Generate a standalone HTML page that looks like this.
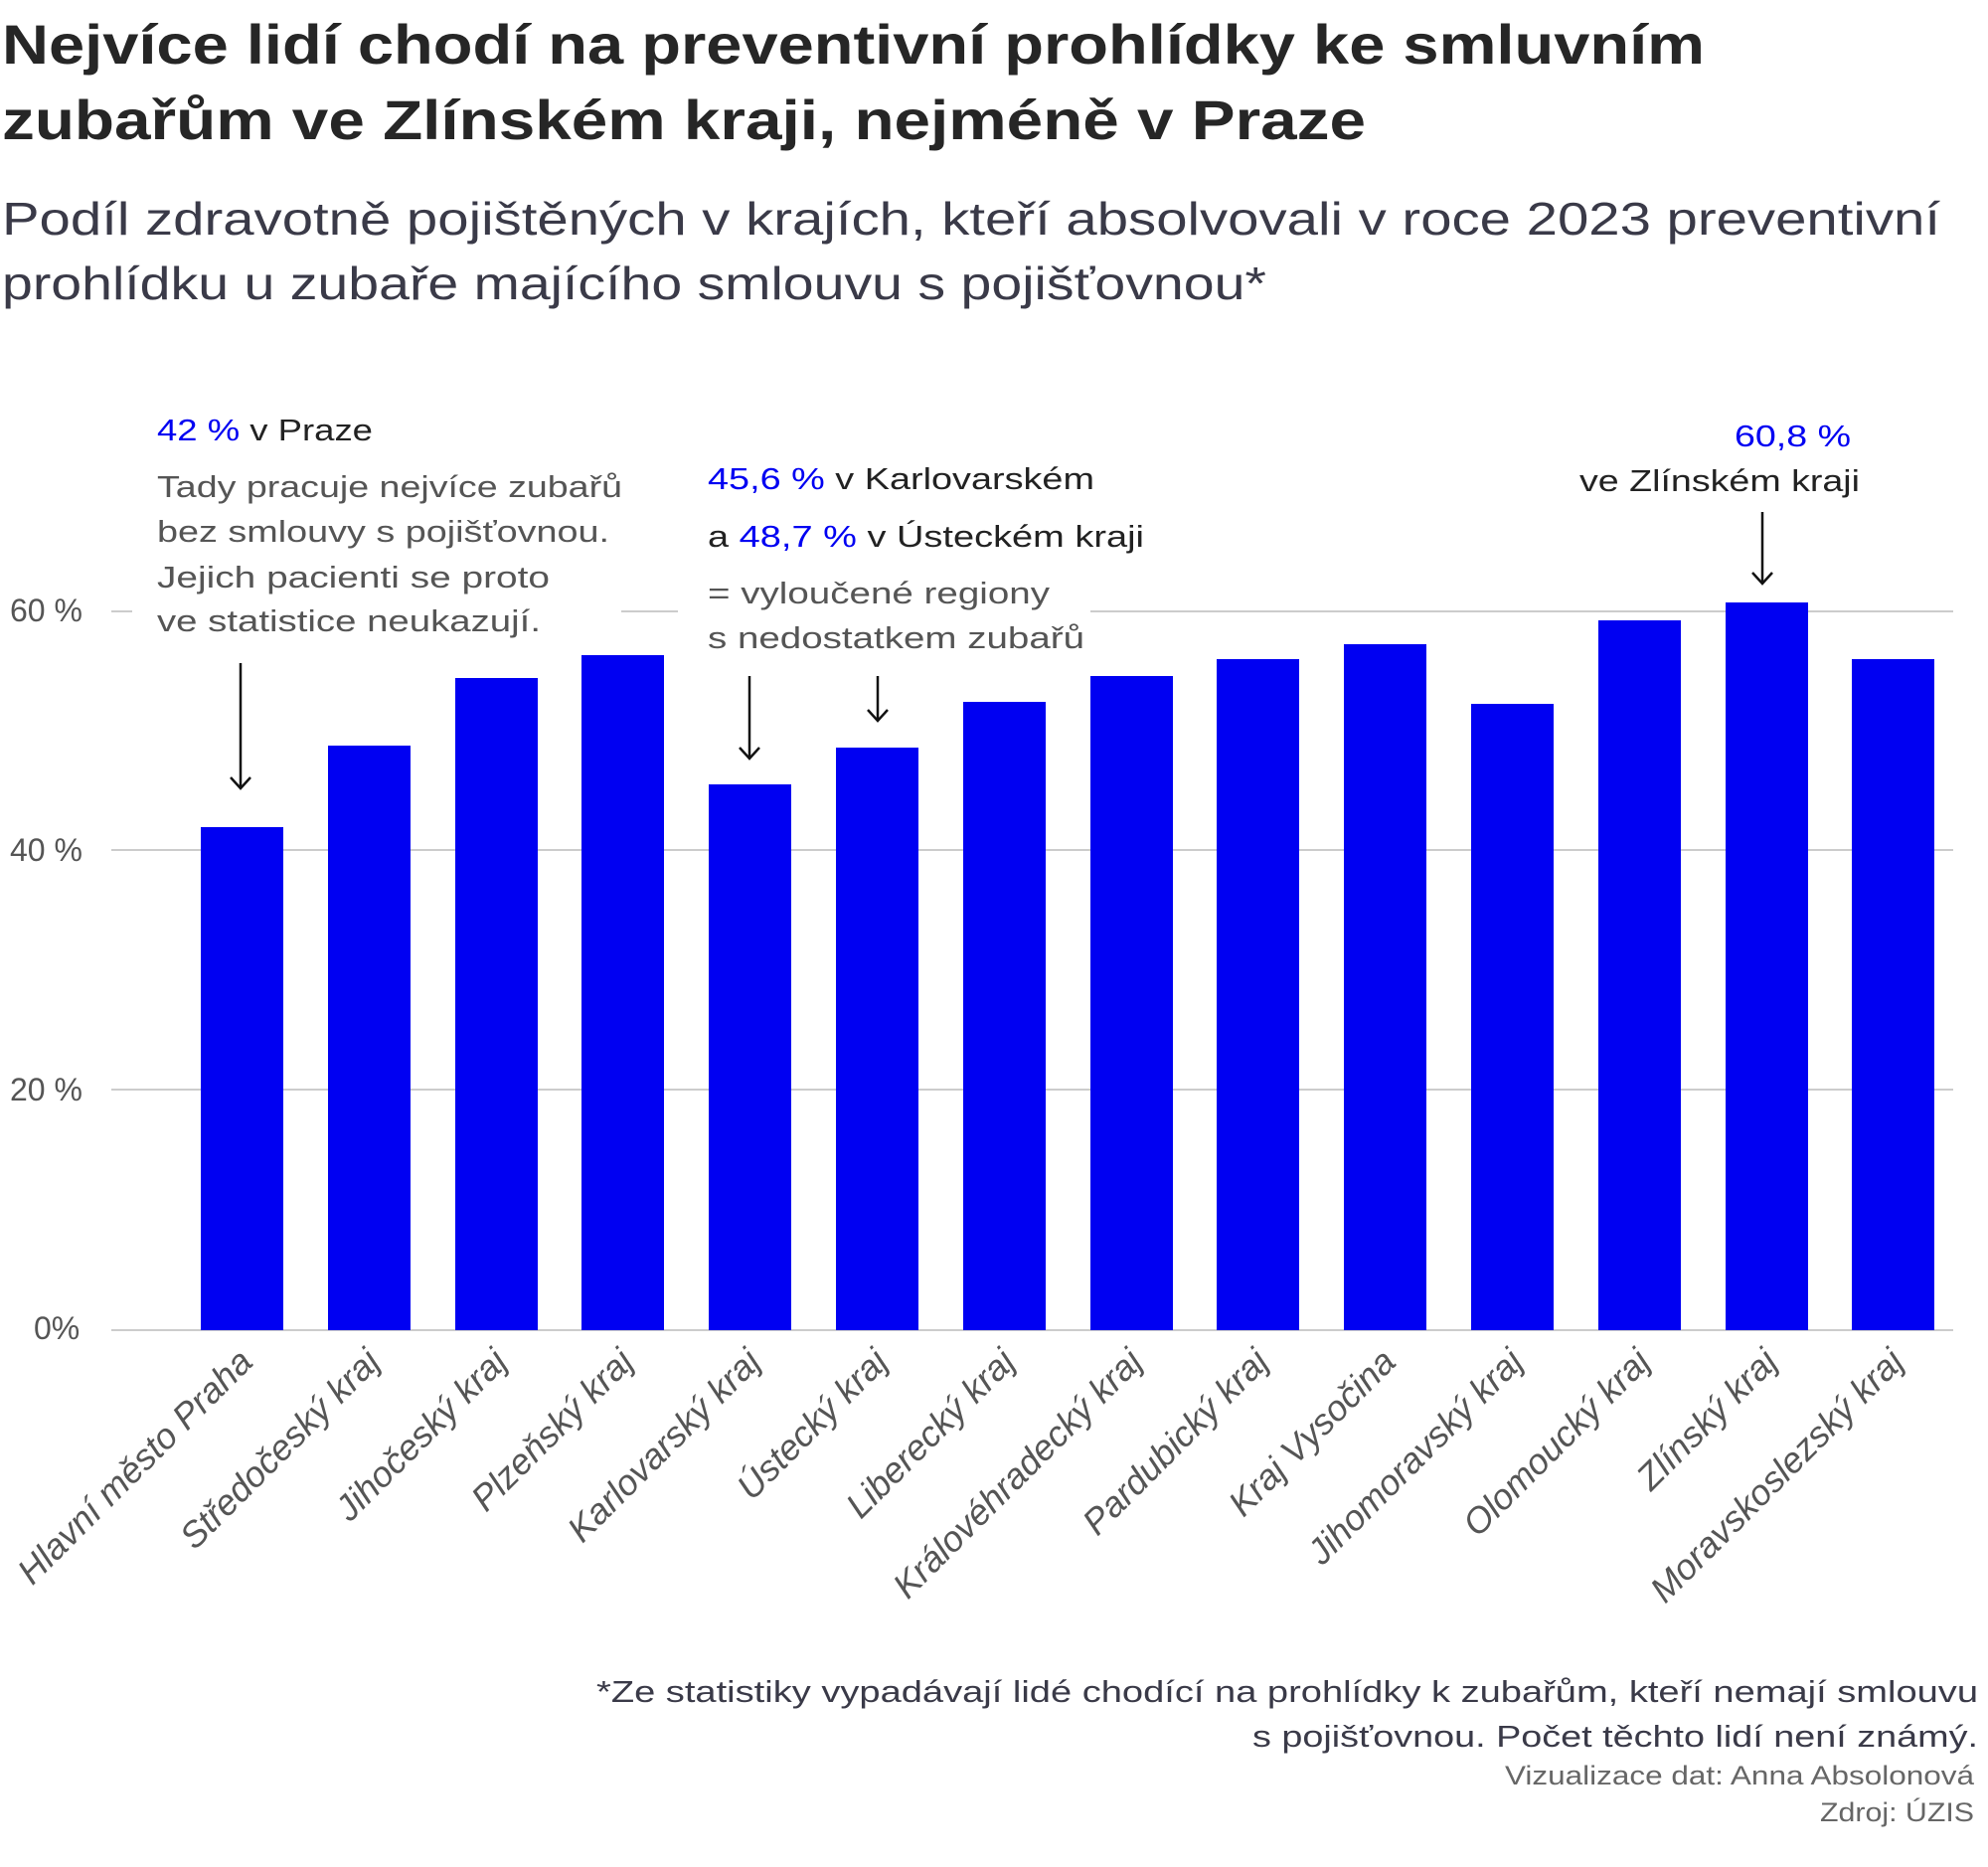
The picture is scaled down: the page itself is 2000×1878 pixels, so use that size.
<!DOCTYPE html>
<html><head><meta charset="utf-8"><style>
html,body{margin:0;padding:0;background:#fff}
svg{display:block}
text{font-family:"Liberation Sans",sans-serif}
</style></head><body>
<svg width="2000" height="1878" viewBox="0 0 2000 1878" xmlns="http://www.w3.org/2000/svg">
<g font-weight="bold" font-size="56" fill="#262626">
<text x="2" y="64" textLength="1713" lengthAdjust="spacingAndGlyphs">Nejvíce lidí chodí na preventivní prohlídky ke smluvním</text>
<text x="2" y="140" textLength="1372" lengthAdjust="spacingAndGlyphs">zubařům ve Zlínském kraji, nejméně v Praze</text>
</g>
<g font-size="46" fill="#3a3a48">
<text x="2" y="236" textLength="1950" lengthAdjust="spacingAndGlyphs">Podíl zdravotně pojištěných v krajích, kteří absolvovali v roce 2023 preventivní</text>
<text x="2" y="301" textLength="1272" lengthAdjust="spacingAndGlyphs">prohlídku u zubaře majícího smlouvu s pojišťovnou*</text>
</g>
<g stroke="#cccccc" stroke-width="2">
<line x1="112" y1="1096" x2="1965" y2="1096"/>
<line x1="112" y1="855" x2="1965" y2="855"/>
<line x1="112" y1="615" x2="133" y2="615"/>
<line x1="625" y1="615" x2="682" y2="615"/>
<line x1="1097" y1="615" x2="1965" y2="615"/>
<line x1="112" y1="1338" x2="1965" y2="1338"/>
</g>
<g font-size="32" fill="#555">
<text x="10" y="625">60 %</text>
<text x="10" y="866">40 %</text>
<text x="10" y="1107">20 %</text>
<text x="34" y="1347">0%</text>
</g>
<g fill="#0000f2">
<rect x="202" y="832" width="83" height="506"/>
<rect x="330" y="750" width="83" height="588"/>
<rect x="458" y="682" width="83" height="656"/>
<rect x="585" y="659" width="83" height="679"/>
<rect x="713" y="789" width="83" height="549"/>
<rect x="841" y="752" width="83" height="586"/>
<rect x="969" y="706" width="83" height="632"/>
<rect x="1097" y="680" width="83" height="658"/>
<rect x="1224" y="663" width="83" height="675"/>
<rect x="1352" y="648" width="83" height="690"/>
<rect x="1480" y="708" width="83" height="630"/>
<rect x="1608" y="624" width="83" height="714"/>
<rect x="1736" y="606" width="83" height="732"/>
<rect x="1863" y="663" width="83" height="675"/>
</g>
<g font-size="36" font-style="italic" fill="#555" text-anchor="end">
<text transform="translate(256,1372) rotate(-45)">Hlavní město Praha</text>
<text transform="translate(384,1372) rotate(-45)">Středočeský kraj</text>
<text transform="translate(512,1372) rotate(-45)">Jihočeský kraj</text>
<text transform="translate(639,1372) rotate(-45)">Plzeňský kraj</text>
<text transform="translate(767,1372) rotate(-45)">Karlovarský kraj</text>
<text transform="translate(895,1372) rotate(-45)">Ústecký kraj</text>
<text transform="translate(1023,1372) rotate(-45)">Liberecký kraj</text>
<text transform="translate(1151,1372) rotate(-45)">Královéhradecký kraj</text>
<text transform="translate(1278,1372) rotate(-45)">Pardubický kraj</text>
<text transform="translate(1406,1372) rotate(-45)">Kraj Vysočina</text>
<text transform="translate(1534,1372) rotate(-45)">Jihomoravský kraj</text>
<text transform="translate(1662,1372) rotate(-45)">Olomoucký kraj</text>
<text transform="translate(1790,1372) rotate(-45)">Zlínský kraj</text>
<text transform="translate(1917,1372) rotate(-45)">Moravskoslezský kraj</text>
</g>
<g font-size="31">
<text x="158" y="443" fill="#222" textLength="217" lengthAdjust="spacingAndGlyphs"><tspan fill="#0000f2">42 %</tspan> v Praze</text>
<g fill="#555">
<text x="158" y="500" textLength="468" lengthAdjust="spacingAndGlyphs">Tady pracuje nejvíce zubařů</text>
<text x="158" y="545" textLength="455" lengthAdjust="spacingAndGlyphs">bez smlouvy s pojišťovnou.</text>
<text x="158" y="591" textLength="395" lengthAdjust="spacingAndGlyphs">Jejich pacienti se proto</text>
<text x="158" y="635" textLength="386" lengthAdjust="spacingAndGlyphs">ve statistice neukazují.</text>
<text x="712" y="607" textLength="344" lengthAdjust="spacingAndGlyphs">= vyloučené regiony</text>
<text x="712" y="652" textLength="379" lengthAdjust="spacingAndGlyphs">s nedostatkem zubařů</text>
</g>
<text x="712" y="492" fill="#222" textLength="389" lengthAdjust="spacingAndGlyphs"><tspan fill="#0000f2">45,6 %</tspan> v Karlovarském</text>
<text x="712" y="550" fill="#222" textLength="439" lengthAdjust="spacingAndGlyphs">a <tspan fill="#0000f2">48,7 %</tspan> v Ústeckém kraji</text>
<text x="1745" y="449" fill="#0000f2" textLength="117" lengthAdjust="spacingAndGlyphs">60,8 %</text>
<text x="1589" y="494" fill="#222" textLength="282" lengthAdjust="spacingAndGlyphs">ve Zlínském kraji</text>
</g>
<g stroke="#111" stroke-width="2.5" fill="none">
<line x1="242" y1="667" x2="242" y2="793"/><polyline points="232,782 242,793 252,782"/>
<line x1="754" y1="680" x2="754" y2="763"/><polyline points="744,752 754,763 764,752"/>
<line x1="883" y1="680" x2="883" y2="725"/><polyline points="873,714 883,725 893,714"/>
<line x1="1773" y1="515" x2="1773" y2="587"/><polyline points="1763,576 1773,587 1783,576"/>
</g>
<g font-size="31" fill="#3a3a48" text-anchor="end">
<text x="1990" y="1712" textLength="1390" lengthAdjust="spacingAndGlyphs">*Ze statistiky vypadávají lidé chodící na prohlídky k zubařům, kteří nemají smlouvu</text>
<text x="1990" y="1757" textLength="730" lengthAdjust="spacingAndGlyphs">s pojišťovnou. Počet těchto lidí není známý.</text>
</g>
<g font-size="27" fill="#666" text-anchor="end">
<text x="1986" y="1795" textLength="472" lengthAdjust="spacingAndGlyphs">Vizualizace dat: Anna Absolonová</text>
<text x="1986" y="1832" textLength="155" lengthAdjust="spacingAndGlyphs">Zdroj: ÚZIS</text>
</g>
</svg>
</body></html>
